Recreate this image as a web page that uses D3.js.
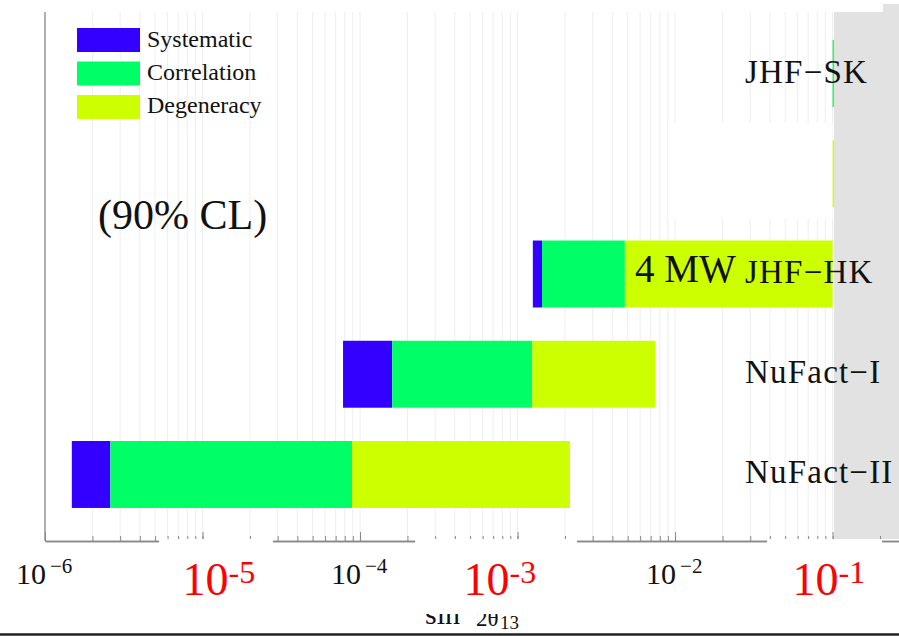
<!DOCTYPE html>
<html>
<head>
<meta charset="utf-8">
<script src="https://cdn.jsdelivr.net/npm/d3@7"></script>
<style>
  html, body { margin: 0; padding: 0; background: #fff; }
  svg { display: block; }
  text { font-family: "Liberation Serif", "DejaVu Serif", serif; }
</style>
</head>
<body>
<svg id="chart" width="899" height="636"></svg>
<script>
// ---------------- data ----------------
const categories = ["JHF-SK", "JHF-HK 0.75MW", "JHF-HK", "NuFact-I", "NuFact-II"];
const rowLabels  = ["JHF\u2212SK", "", "JHF\u2212HK", "NuFact\u2212I", "NuFact\u2212II"];
const systematicStart = [0.1,   0.02,  1.25e-3, 7.8e-5, 1.48e-6];
const systematicEnd   = [0.1,   0.022, 1.43e-3, 1.6e-4, 2.6e-6];
const correlationEnd  = [0.102, 0.05,  4.8e-3,  1.24e-3, 8.9e-5];
const degeneracyEnd   = [0.25,  0.25,  0.1,     7.5e-3, 2.15e-3];
const legendNames = ["Systematic", "Correlation", "Degeneracy"];
const blackTickExps = [-6, -4, -2];
const redTickExps = [-5, -3, -1];
const excludedLimit = 0.1;

// ---------------- layout ----------------
const svg = d3.select("#chart");
const W = 899, H = 636;
const plotTop = 12, plotBottom = 541, plotLeft = 45;
const colors = { Systematic: "#3300ff", Correlation: "#00ff66", Degeneracy: "#ccff00" };

const x = d3.scaleLog().domain([1e-6, 0.264]).range([plotLeft, W]);
const y = d3.scaleBand().domain(categories).range([23.4, 524.6]).paddingInner(0.332).paddingOuter(0.166);

// gridlines at each log tick
const allTicks = [];
for (let e = -6; e <= -1; e++) for (let m = 1; m <= 9; m++) {
  const v = m * Math.pow(10, e);
  if (v <= x.domain()[1]) allTicks.push(v);
}
svg.append("g").selectAll("line").data(allTicks).join("line")
  .attr("x1", d => x(d)).attr("x2", d => x(d))
  .attr("y1", plotTop).attr("y2", plotBottom)
  .attr("stroke", "#eeeeee").attr("stroke-width", 1);

// bars
const rows = categories.map((c, i) => ({
  c,
  segs: [
    { name: "Systematic", a: systematicStart[i], b: systematicEnd[i] },
    { name: "Correlation", a: systematicEnd[i], b: correlationEnd[i] },
    { name: "Degeneracy", a: correlationEnd[i], b: degeneracyEnd[i] }
  ]
}));
const gBars = svg.append("g");
rows.forEach(r => {
  gBars.selectAll(null).data(r.segs.filter(s => s.b > s.a)).join("rect")
    .attr("x", s => x(s.a)).attr("width", s => x(s.b) - x(s.a))
    .attr("y", y(r.c)).attr("height", y.bandwidth())
    .attr("fill", s => colors[s.name]);
});

// excluded region (gray)
svg.append("rect")
  .attr("x", x(excludedLimit) + 1.5).attr("y", 4)
  .attr("width", W - x(excludedLimit) - 1.5).attr("height", plotBottom - 2 - 4)
  .attr("fill", "#e2e2e2");

// white masks
svg.append("rect").attr("x", 0).attr("y", 0).attr("width", 883).attr("height", plotTop).attr("fill", "#fff");
svg.append("rect").attr("x", 668).attr("y", 123).attr("width", x(excludedLimit) - 668).attr("height", 96).attr("fill", "#fff");

// left axis line
svg.append("line").attr("x1", plotLeft).attr("x2", plotLeft).attr("y1", plotTop).attr("y2", plotBottom)
  .attr("stroke", "#999").attr("stroke-width", 1.5);

// bottom axis
const axisG = svg.append("g").attr("transform", `translate(0,${plotBottom})`);
axisG.call(d3.axisBottom(x).tickValues(allTicks).tickSizeInner(-5).tickSizeOuter(0).tickFormat(""));
const majorG = svg.append("g").attr("transform", `translate(0,${plotBottom})`);
majorG.call(d3.axisBottom(x).tickValues(blackTickExps.concat(redTickExps).map(e => Math.pow(10, e)))
  .tickSizeInner(-9).tickSizeOuter(0).tickFormat(""));
[axisG, majorG].forEach(g => {
  g.select(".domain").attr("stroke", "#888").attr("stroke-width", 1.5);
  g.selectAll(".tick line").attr("stroke", "#888");
});

// black tick labels
blackTickExps.forEach(e => {
  const px = x(Math.pow(10, e));
  svg.append("text").attr("x", px + 1).attr("y", 584).attr("text-anchor", "end")
    .attr("font-size", 30).attr("fill", "#111").text("10");
  svg.append("text").attr("x", px + 5).attr("y", 573).attr("text-anchor", "start")
    .attr("font-size", 21).attr("fill", "#111").text("\u2212" + (-e));
});

// white masks behind red labels
const maskSpans = [[159, 273, 539, 610], [415, 577, 539, 614], [767, 882, 539, 610]];
svg.append("g").selectAll("rect").data(maskSpans).join("rect")
  .attr("x", d => d[0]).attr("y", d => d[2]).attr("width", d => d[1] - d[0]).attr("height", d => d[3] - d[2])
  .attr("fill", "#fff");

// red tick labels
const redOffsets = [-20, -54, -40];
redTickExps.forEach((e, i) => {
  const px = x(Math.pow(10, e)) + redOffsets[i];
  const t = svg.append("text").attr("x", px).attr("y", 595).attr("fill", "#ff0000").attr("font-size", 46);
  t.append("tspan").text("10");
  t.append("tspan").attr("font-size", 32).attr("dy", -12).text("-" + (-e));
});

// axis title (top part hidden, as in the reference)
svg.append("defs").append("clipPath").attr("id", "titleClip")
  .append("rect").attr("x", 400).attr("y", 614).attr("width", 200).attr("height", 19);
const title = svg.append("g").attr("clip-path", "url(#titleClip)");
title.append("text").attr("x", 425).attr("y", 624).attr("font-size", 30).attr("fill", "#111").text("sin");
title.append("text").attr("x", 476).attr("y", 626).attr("font-size", 23).attr("fill", "#111").text("2\u03b8");
title.append("text").attr("x", 500).attr("y", 629).attr("font-size", 19).attr("fill", "#111").text("13");

// bottom line
svg.append("line").attr("x1", 0).attr("x2", W).attr("y1", 634.5).attr("y2", 634.5)
  .attr("stroke", "#222").attr("stroke-width", 2.5);

// row labels
svg.append("g").selectAll("text").data(categories.map((c, i) => ({ c, l: rowLabels[i] })).filter(d => d.l))
  .join("text")
  .attr("x", 745).attr("y", d => y(d.c) + y.bandwidth() / 2 + 9)
  .attr("font-size", 33).attr("letter-spacing", 1.2).attr("fill", "#111")
  .text(d => d.l);

// legend
const lg = svg.append("g");
legendNames.forEach((n, i) => {
  lg.append("rect").attr("x", 77).attr("y", 28 + i * 33.5).attr("width", 63).attr("height", 24)
    .attr("fill", colors[n]);
  lg.append("text").attr("x", 147).attr("y", 47 + i * 33).attr("font-size", 24).attr("fill", "#111").text(n);
});

// annotations
svg.append("text").attr("x", 98).attr("y", 229).attr("font-size", 42).attr("fill", "#111").text("(90% CL)");
svg.append("text").attr("x", 635).attr("y", 282).attr("font-size", 39).attr("fill", "#111").text("4 MW");
</script>
</body>
</html>
